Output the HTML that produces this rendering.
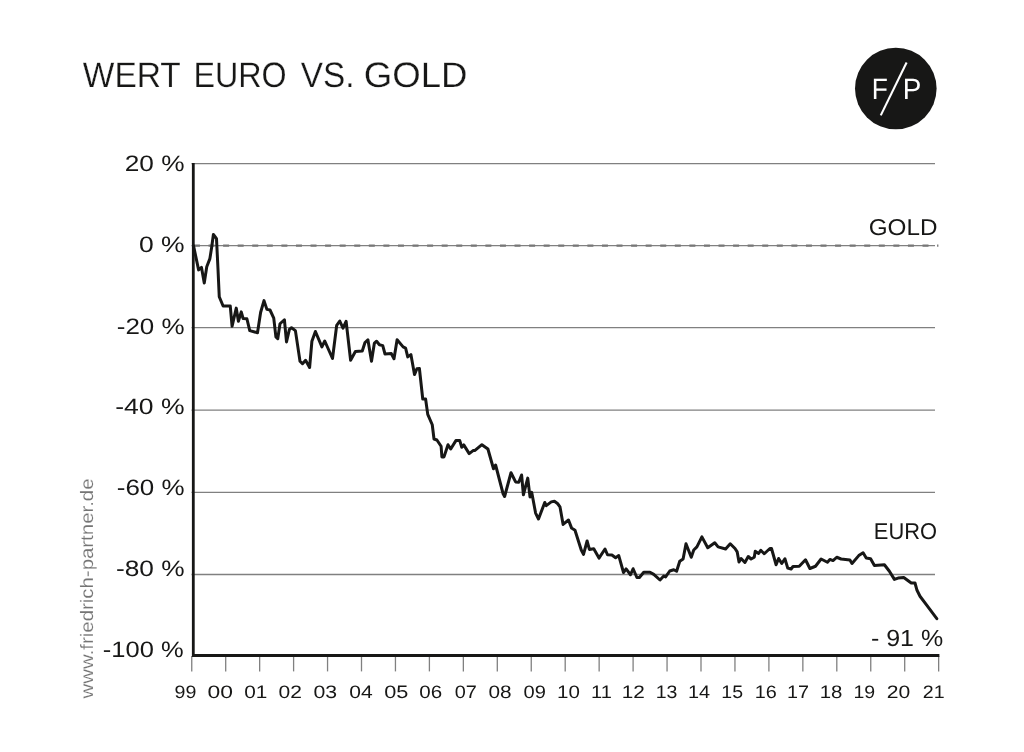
<!DOCTYPE html>
<html lang="de"><head><meta charset="utf-8"><title>Wert Euro vs. Gold</title>
<style>html,body{margin:0;padding:0;background:#fff}body{width:1024px;height:752px;overflow:hidden}svg{display:block}text{font-family:"Liberation Sans",sans-serif;fill:#171716;text-rendering:geometricPrecision}</style></head><body>
<svg width="1024" height="752" viewBox="0 0 1024 752">
<rect width="1024" height="752" fill="#fff"/>
<text x="82.80" y="86.85" font-size="35.45" textLength="98.00" lengthAdjust="spacingAndGlyphs" stroke="#fff" stroke-width="0.25">WERT</text>
<text x="193.45" y="86.85" font-size="35.45" textLength="93.21" lengthAdjust="spacingAndGlyphs" stroke="#fff" stroke-width="0.25">EURO</text>
<text x="300.75" y="86.85" font-size="35.45" textLength="53.70" lengthAdjust="spacingAndGlyphs" stroke="#fff" stroke-width="0.25">VS.</text>
<text x="363.75" y="86.85" font-size="35.45" textLength="103.74" lengthAdjust="spacingAndGlyphs" stroke="#fff" stroke-width="0.25">GOLD</text>
<circle cx="895.8" cy="88.55" r="40.8" fill="#171716"/>
<line x1="906.6" y1="62.5" x2="880.75" y2="115.4" stroke="#fff" stroke-width="2.1"/>
<text x="871.65" y="99.00" font-size="29.37" textLength="16.08" lengthAdjust="spacingAndGlyphs" style="fill:#fff;stroke:#171716;stroke-width:0.00">F</text>
<text x="902.75" y="99.00" font-size="29.37" textLength="18.60" lengthAdjust="spacingAndGlyphs" style="fill:#fff;stroke:#171716;stroke-width:0.00">P</text>
<line x1="191.5" y1="163.6" x2="935" y2="163.6" stroke="#808080" stroke-width="1.3"/>
<line x1="191.5" y1="327.6" x2="935" y2="327.6" stroke="#808080" stroke-width="1.3"/>
<line x1="191.5" y1="410.2" x2="935" y2="410.2" stroke="#808080" stroke-width="1.3"/>
<line x1="191.5" y1="492.4" x2="935" y2="492.4" stroke="#808080" stroke-width="1.3"/>
<line x1="191.5" y1="574.5" x2="935" y2="574.5" stroke="#808080" stroke-width="1.3"/>
<line x1="191.5" y1="245.55" x2="935" y2="245.55" stroke="#808080" stroke-width="1.3"/>
<line x1="193.96" y1="245.55" x2="938.4" y2="245.55" stroke="#777" stroke-width="2.3" stroke-dasharray="6 8.571"/>
<line x1="191.75" y1="656" x2="191.75" y2="671.4" stroke="#808080" stroke-width="1.3"/>
<line x1="225.70" y1="656" x2="225.70" y2="671.4" stroke="#808080" stroke-width="1.3"/>
<line x1="259.65" y1="656" x2="259.65" y2="671.4" stroke="#808080" stroke-width="1.3"/>
<line x1="293.60" y1="656" x2="293.60" y2="671.4" stroke="#808080" stroke-width="1.3"/>
<line x1="327.55" y1="656" x2="327.55" y2="671.4" stroke="#808080" stroke-width="1.3"/>
<line x1="361.50" y1="656" x2="361.50" y2="671.4" stroke="#808080" stroke-width="1.3"/>
<line x1="395.45" y1="656" x2="395.45" y2="671.4" stroke="#808080" stroke-width="1.3"/>
<line x1="429.40" y1="656" x2="429.40" y2="671.4" stroke="#808080" stroke-width="1.3"/>
<line x1="463.35" y1="656" x2="463.35" y2="671.4" stroke="#808080" stroke-width="1.3"/>
<line x1="497.30" y1="656" x2="497.30" y2="671.4" stroke="#808080" stroke-width="1.3"/>
<line x1="531.25" y1="656" x2="531.25" y2="671.4" stroke="#808080" stroke-width="1.3"/>
<line x1="565.20" y1="656" x2="565.20" y2="671.4" stroke="#808080" stroke-width="1.3"/>
<line x1="599.15" y1="656" x2="599.15" y2="671.4" stroke="#808080" stroke-width="1.3"/>
<line x1="633.10" y1="656" x2="633.10" y2="671.4" stroke="#808080" stroke-width="1.3"/>
<line x1="667.05" y1="656" x2="667.05" y2="671.4" stroke="#808080" stroke-width="1.3"/>
<line x1="701.00" y1="656" x2="701.00" y2="671.4" stroke="#808080" stroke-width="1.3"/>
<line x1="734.95" y1="656" x2="734.95" y2="671.4" stroke="#808080" stroke-width="1.3"/>
<line x1="768.90" y1="656" x2="768.90" y2="671.4" stroke="#808080" stroke-width="1.3"/>
<line x1="802.85" y1="656" x2="802.85" y2="671.4" stroke="#808080" stroke-width="1.3"/>
<line x1="836.80" y1="656" x2="836.80" y2="671.4" stroke="#808080" stroke-width="1.3"/>
<line x1="870.75" y1="656" x2="870.75" y2="671.4" stroke="#808080" stroke-width="1.3"/>
<line x1="904.70" y1="656" x2="904.70" y2="671.4" stroke="#808080" stroke-width="1.3"/>
<line x1="938.65" y1="656" x2="938.65" y2="671.4" stroke="#808080" stroke-width="1.3"/>
<path d="M193.3 163 V655.5 H939.4" fill="none" stroke="#171716" stroke-width="2.8"/>
<polyline fill="none" stroke="#171716" stroke-width="3" stroke-linejoin="round" stroke-linecap="round" points="193.6,246.1 198.6,269.9 201.5,267.4 204.25,283 206.75,266.75 209.9,258.6 211.75,246.75 213.4,234.5 216.5,238.6 218,269.25 219.25,296.75 223.1,306 230.25,306 232.1,326.25 236.25,308.1 238.4,321.25 241.25,311.9 243.1,318.5 246.9,318.75 249.75,330.6 257.5,332.75 260.6,312.5 264,300.6 266.9,309.4 270,310 273.75,318.1 275.9,336.9 277.75,338.75 280,323.75 284.4,319.75 286.5,341.9 289.4,329.4 291.5,327.75 295.4,330.6 300,361.25 302.5,363.75 305.6,360.25 309.6,367.5 311.9,341.25 315.4,331.5 321.9,346.9 324.75,341 332.5,358.5 336.7,325.3 339.75,321 343,328.1 346.1,321.25 350.6,360.25 355.4,351.5 362.25,351 365,342.5 367.9,339.75 371.5,361.25 374.4,343.1 376.6,341.25 379.4,344.75 382.75,345.6 385,354 391.25,353.5 394,358.75 397.1,339.75 403.1,346.9 405.6,348.1 407.75,356.9 410.9,354.6 414.5,374.6 416.9,368.75 419.4,368.5 422.75,399 425.6,399 427.75,414.4 432.25,424.75 434,439 436.9,440 441.1,446.25 441.9,456.9 444,456.9 448,444.7 450.7,449 455.9,440.6 459.75,440.6 461.75,447.2 463.75,444.9 469.2,453.6 473.1,450.6 475,450.4 481.9,444.7 487.9,449 493.5,468.75 495.6,465 503.1,493.75 504.6,496.5 511,472.75 515.6,481.9 518.75,482.25 521.6,475 523.4,494.75 527.75,478.1 530,496.9 531.75,492.4 535.6,513.1 538.5,519 544.75,502.5 546.25,505.6 551.25,501.9 554.4,501.25 557.5,503.5 560,506.9 563.1,524.4 568.5,520 571.6,528.1 575,530.25 581.25,550 583.5,554.4 587.1,541 589.4,549.4 593.75,548.75 599,558.1 605,549 607.5,554.75 611.9,555 615.6,557.75 618.75,555.6 623.5,572.5 626.1,568.9 630.5,574.75 633.1,568.75 636.9,577.5 639.4,577.5 643.75,572.25 650,572.25 653.75,574.4 660,580 663.75,576 665.6,576.9 669.75,571 673.75,569.75 676.6,571.25 679.75,561.25 683.1,559 686,543.75 691.25,557.25 693.75,550 696.9,546.9 701.9,536.9 707.75,547.75 714.75,542.75 718.1,546.9 725.6,549 730.25,543.75 735,548.5 737.2,551.9 739,561.9 741.1,558.5 744.9,562.5 748.25,556.5 751.1,559 754.25,557.25 755.25,551.25 758.6,553.5 760.75,550.25 764.25,553.75 769.9,548.5 771.5,548.5 776.1,564.75 778.6,558.5 781.75,563.5 784.9,558.75 787.75,568.1 791.1,569 793,566.5 799.25,566.25 805.5,559.75 809.9,568.5 815.5,566.25 821.1,559 827.4,562.25 829.9,559.4 833,560.6 836.75,557.25 841.1,559 849.9,559.9 852,563.5 858.75,555.6 863.1,552.75 866.25,558.1 870.6,558.75 874.4,565.6 884.4,564.75 889.4,571.25 894.4,579.4 898.1,578.1 903.75,577.5 911.25,583 915,583 917,590.3 920,596.25 926.5,604.9 936.8,618.7"/>
<text x="124.75" y="171.25" font-size="22.20" textLength="59.83" lengthAdjust="spacingAndGlyphs" stroke="#fff" stroke-width="0.00">20 %</text>
<text x="139.00" y="252.35" font-size="22.20" textLength="45.66" lengthAdjust="spacingAndGlyphs" stroke="#fff" stroke-width="0.00">0 %</text>
<text x="116.75" y="333.55" font-size="22.20" textLength="67.82" lengthAdjust="spacingAndGlyphs" stroke="#fff" stroke-width="0.00">-20 %</text>
<text x="115.25" y="414.05" font-size="22.20" textLength="69.36" lengthAdjust="spacingAndGlyphs" stroke="#fff" stroke-width="0.00">-40 %</text>
<text x="116.75" y="495.25" font-size="22.20" textLength="67.82" lengthAdjust="spacingAndGlyphs" stroke="#fff" stroke-width="0.00">-60 %</text>
<text x="115.95" y="576.05" font-size="22.20" textLength="68.64" lengthAdjust="spacingAndGlyphs" stroke="#fff" stroke-width="0.00">-80 %</text>
<text x="102.85" y="656.75" font-size="22.20" textLength="80.81" lengthAdjust="spacingAndGlyphs" stroke="#fff" stroke-width="0.00">-100 %</text>
<text x="174.50" y="698.30" font-size="18.05" textLength="21.85" lengthAdjust="spacingAndGlyphs" stroke="#fff" stroke-width="0.00">99</text>
<text x="207.50" y="698.30" font-size="18.05" textLength="25.46" lengthAdjust="spacingAndGlyphs" stroke="#fff" stroke-width="0.00">00</text>
<text x="244.25" y="698.30" font-size="18.05" textLength="23.14" lengthAdjust="spacingAndGlyphs" stroke="#fff" stroke-width="0.00">01</text>
<text x="278.50" y="698.30" font-size="18.05" textLength="23.39" lengthAdjust="spacingAndGlyphs" stroke="#fff" stroke-width="0.00">02</text>
<text x="313.50" y="698.30" font-size="18.05" textLength="23.66" lengthAdjust="spacingAndGlyphs" stroke="#fff" stroke-width="0.00">03</text>
<text x="349.25" y="698.30" font-size="18.05" textLength="23.41" lengthAdjust="spacingAndGlyphs" stroke="#fff" stroke-width="0.00">04</text>
<text x="384.25" y="698.30" font-size="18.05" textLength="24.18" lengthAdjust="spacingAndGlyphs" stroke="#fff" stroke-width="0.00">05</text>
<text x="419.25" y="698.30" font-size="18.05" textLength="22.89" lengthAdjust="spacingAndGlyphs" stroke="#fff" stroke-width="0.00">06</text>
<text x="454.75" y="698.30" font-size="18.05" textLength="22.11" lengthAdjust="spacingAndGlyphs" stroke="#fff" stroke-width="0.00">07</text>
<text x="488.50" y="698.30" font-size="18.05" textLength="23.14" lengthAdjust="spacingAndGlyphs" stroke="#fff" stroke-width="0.00">08</text>
<text x="523.50" y="698.30" font-size="18.05" textLength="22.37" lengthAdjust="spacingAndGlyphs" stroke="#fff" stroke-width="0.00">09</text>
<text x="557.00" y="698.30" font-size="18.05" textLength="22.87" lengthAdjust="spacingAndGlyphs" stroke="#fff" stroke-width="0.00">10</text>
<text x="591.00" y="698.30" font-size="18.05" textLength="20.80" lengthAdjust="spacingAndGlyphs" stroke="#fff" stroke-width="0.00">11</text>
<text x="621.75" y="698.30" font-size="18.05" textLength="23.12" lengthAdjust="spacingAndGlyphs" stroke="#fff" stroke-width="0.00">12</text>
<text x="655.70" y="698.30" font-size="18.05" textLength="21.73" lengthAdjust="spacingAndGlyphs" stroke="#fff" stroke-width="0.00">13</text>
<text x="687.90" y="698.30" font-size="18.05" textLength="22.10" lengthAdjust="spacingAndGlyphs" stroke="#fff" stroke-width="0.00">14</text>
<text x="721.30" y="698.30" font-size="18.05" textLength="21.73" lengthAdjust="spacingAndGlyphs" stroke="#fff" stroke-width="0.00">15</text>
<text x="754.75" y="698.30" font-size="18.05" textLength="22.09" lengthAdjust="spacingAndGlyphs" stroke="#fff" stroke-width="0.00">16</text>
<text x="786.90" y="698.30" font-size="18.05" textLength="21.98" lengthAdjust="spacingAndGlyphs" stroke="#fff" stroke-width="0.00">17</text>
<text x="819.75" y="698.30" font-size="18.05" textLength="22.71" lengthAdjust="spacingAndGlyphs" stroke="#fff" stroke-width="0.00">18</text>
<text x="853.50" y="698.30" font-size="18.05" textLength="21.73" lengthAdjust="spacingAndGlyphs" stroke="#fff" stroke-width="0.00">19</text>
<text x="886.80" y="698.30" font-size="18.05" textLength="23.50" lengthAdjust="spacingAndGlyphs" stroke="#fff" stroke-width="0.00">20</text>
<text x="922.75" y="698.30" font-size="18.05" textLength="21.85" lengthAdjust="spacingAndGlyphs" stroke="#fff" stroke-width="0.00">21</text>
<text x="868.75" y="235.35" font-size="22.75" textLength="68.74" lengthAdjust="spacingAndGlyphs" stroke="#fff" stroke-width="0.00">GOLD</text>
<text x="873.85" y="538.50" font-size="22.75" textLength="63.21" lengthAdjust="spacingAndGlyphs" stroke="#fff" stroke-width="0.00">EURO</text>
<text x="870.90" y="645.65" font-size="23.40" textLength="72.21" lengthAdjust="spacingAndGlyphs" stroke="#fff" stroke-width="0.00">- 91 %</text>
<text transform="translate(92.9 698.4) rotate(-90)" font-size="18" textLength="219.9" lengthAdjust="spacingAndGlyphs" stroke="#fff" stroke-width="0.15" style="fill:#747474">www.friedrich-partner.de</text>
</svg></body></html>
